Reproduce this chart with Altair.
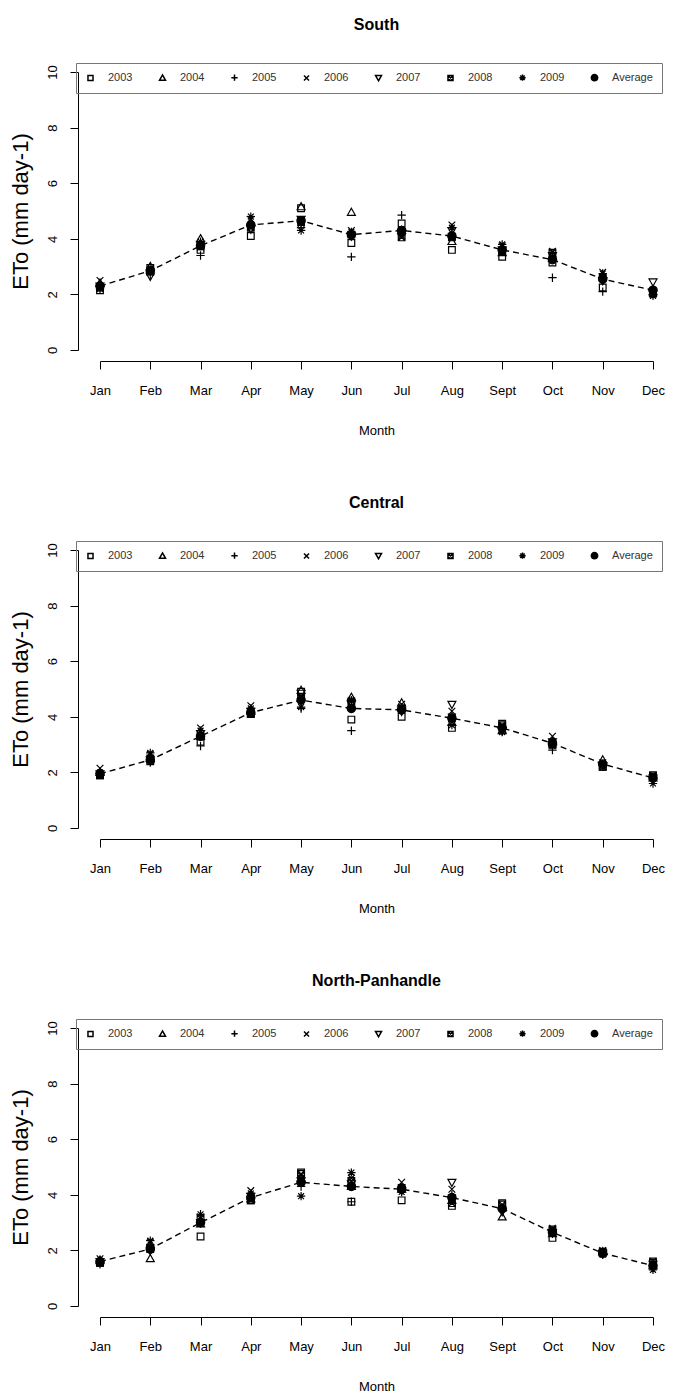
import json
import altair as alt
import pandas as pd

months = ["Jan", "Feb", "Mar", "Apr", "May", "Jun", "Jul", "Aug", "Sept", "Oct", "Nov", "Dec"]
series = ["2003", "2004", "2005", "2006", "2007", "2008", "2009", "Average"]
regions = ["South", "Central", "North-Panhandle"]
y_ticks = [0, 2, 4, 6, 8, 10]

# ---- South ----
south_2003 = [2.15, 2.95, 3.60, 4.10, 5.10, 3.85, 4.55, 3.60, 3.35, 3.15, 2.25, 2.05]
south_2004 = [2.40, 3.00, 4.00, 4.60, 5.15, 4.95, 4.30, 3.90, 3.50, 3.30, 2.70, 2.10]
south_2005 = [2.35, 2.70, 3.40, 4.50, 4.40, 3.35, 4.85, 4.20, 3.70, 2.60, 2.10, 2.15]
south_2006 = [2.50, 2.80, 3.70, 4.70, 4.55, 4.30, 4.10, 4.50, 3.75, 3.55, 2.80, 2.00]
south_2007 = [2.30, 2.65, 3.80, 4.35, 4.70, 4.10, 4.20, 4.30, 3.60, 3.40, 2.50, 2.45]
south_2008 = [2.25, 2.85, 3.75, 4.40, 4.60, 4.15, 4.05, 4.05, 3.55, 3.50, 2.60, 2.10]
south_2009 = [2.20, 2.90, 3.90, 4.80, 4.30, 4.25, 4.15, 4.40, 3.80, 3.35, 2.75, 1.95]
south_avg  = [2.30, 2.85, 3.75, 4.50, 4.65, 4.15, 4.30, 4.10, 3.60, 3.25, 2.55, 2.15]

# ---- Central ----
central_2003 = [1.90, 2.40, 3.10, 4.10, 4.90, 3.90, 4.00, 3.60, 3.75, 3.00, 2.20, 1.85]
central_2004 = [2.00, 2.50, 3.30, 4.20, 4.95, 4.70, 4.50, 3.80, 3.50, 3.10, 2.45, 1.80]
central_2005 = [1.95, 2.35, 2.95, 4.15, 4.30, 3.50, 4.30, 4.10, 3.60, 2.80, 2.30, 1.75]
central_2006 = [2.15, 2.65, 3.60, 4.40, 4.75, 4.40, 4.45, 4.20, 3.65, 3.30, 2.35, 1.85]
central_2007 = [1.95, 2.45, 3.40, 4.20, 4.85, 4.45, 4.20, 4.45, 3.50, 3.10, 2.25, 1.80]
central_2008 = [1.90, 2.50, 3.30, 4.10, 4.70, 4.55, 4.30, 3.95, 3.70, 3.00, 2.20, 1.90]
central_2009 = [2.00, 2.70, 3.50, 4.30, 4.35, 4.60, 4.35, 3.70, 3.45, 2.95, 2.25, 1.60]
central_avg  = [1.95, 2.45, 3.30, 4.15, 4.60, 4.30, 4.25, 3.95, 3.60, 3.05, 2.30, 1.80]

# ---- North-Panhandle ----
north_2003 = [1.55, 2.05, 2.50, 3.80, 4.80, 3.75, 3.80, 3.60, 3.70, 2.45, 1.90, 1.55]
north_2004 = [1.65, 1.70, 2.95, 3.85, 4.60, 4.30, 4.20, 3.80, 3.20, 2.60, 1.95, 1.45]
north_2005 = [1.50, 2.20, 3.10, 3.90, 4.30, 3.75, 4.30, 4.00, 3.50, 2.70, 1.85, 1.40]
north_2006 = [1.70, 2.30, 3.20, 4.15, 4.70, 4.60, 4.45, 4.20, 3.60, 2.80, 2.00, 1.50]
north_2007 = [1.60, 2.00, 3.00, 3.95, 4.50, 4.40, 4.15, 4.45, 3.40, 2.65, 1.90, 1.50]
north_2008 = [1.55, 2.10, 3.15, 3.80, 4.75, 4.50, 4.25, 3.70, 3.65, 2.75, 1.95, 1.60]
north_2009 = [1.60, 2.35, 3.30, 4.05, 3.95, 4.80, 4.10, 3.90, 3.50, 2.60, 1.85, 1.30]
north_avg  = [1.60, 2.05, 3.00, 3.90, 4.45, 4.30, 4.20, 3.90, 3.50, 2.65, 1.90, 1.45]

table = {
    "South": [south_2003, south_2004, south_2005, south_2006, south_2007, south_2008, south_2009, south_avg],
    "Central": [central_2003, central_2004, central_2005, central_2006, central_2007, central_2008, central_2009, central_avg],
    "North-Panhandle": [north_2003, north_2004, north_2005, north_2006, north_2007, north_2008, north_2009, north_avg],
}

rows = []
for reg in regions:
    for s, vals in zip(series, table[reg]):
        for i, v in enumerate(vals):
            rows.append({"region": reg, "series": s, "m": i + 1, "v": v})
df = pd.DataFrame(rows)

# symbol shapes (R pch 0, 2, 3, 4, 6, 7, 8, 16)
shapes = [
    "M-0.8,-0.8L0.8,-0.8L0.8,0.8L-0.8,0.8Z",
    "M0,-1L0.95,0.7L-0.95,0.7Z",
    "M-1,0L1,0M0,-1L0,1",
    "M-0.8,-0.8L0.8,0.8M-0.8,0.8L0.8,-0.8",
    "M0,1L0.95,-0.7L-0.95,-0.7Z",
    "M-0.8,-0.8L0.8,-0.8L0.8,0.8L-0.8,0.8ZM-0.8,-0.8L0.8,0.8M-0.8,0.8L0.8,-0.8",
    "M-1,0L1,0M0,-1L0,1M-0.7,-0.7L0.7,0.7M-0.7,0.7L0.7,-0.7",
    "circle",
]
fills = ["transparent"] * 7 + ["black"]
strokes = ["black"] * 8

FONT = "Liberation Sans"
label_expr = json.dumps(months) + "[datum.value - 1]"


def panel(reg):
    d = df[df.region == reg]
    base = alt.Chart(d)
    x = alt.X(
        "m:Q",
        scale=alt.Scale(domain=[1, 12], nice=False, zero=False),
        axis=alt.Axis(values=list(range(1, 13)), labelExpr=label_expr, title="Month",
                      offset=11, tickSize=8, labelPadding=15, titlePadding=27,
                      labelFlush=False, labelFontSize=13, titleFontSize=13),
    )
    y = alt.Y(
        "v:Q",
        scale=alt.Scale(domain=[0, 10], nice=False, zero=False),
        axis=alt.Axis(values=y_ticks, title="ETo (mm day-1)", offset=22, tickSize=8,
                      labelAngle=-90, labelAlign="center", labelBaseline="bottom",
                      labelFlush=False, labelPadding=11, titlePadding=14,
                      labelFontSize=13, titleFontSize=22),
    )
    line = base.transform_filter(alt.datum.series == "Average").mark_line(
        color="black", strokeDash=[6, 4], strokeWidth=1.4
    ).encode(x=x, y=y)
    legend = alt.Legend(
        title=None, orient="none", legendX=-24, legendY=-9, direction="horizontal",
        columns=8, columnPadding=23, labelFontSize=11, symbolSize=40, symbolStrokeWidth=1.5,
        labelOffset=12, padding=9, strokeColor="#777",
        labelFont=FONT, labelColor="#333",
    )
    pts = base.mark_point(opacity=1, strokeWidth=1.2, size=70).encode(
        x=x, y=y,
        shape=alt.Shape("series:N", scale=alt.Scale(domain=series, range=shapes), legend=legend),
        fill=alt.Fill("series:N", scale=alt.Scale(domain=series, range=fills), legend=legend),
        stroke=alt.Stroke("series:N", scale=alt.Scale(domain=series, range=strokes), legend=legend),
    )
    return alt.layer(line, pts).properties(
        width=553, height=278,
        title=alt.TitleParams(reg, fontSize=16, fontWeight="bold", font=FONT, offset=30,
                              anchor="middle", frame="group"),
    )


chart = alt.vconcat(*[panel(r) for r in regions], spacing=57).resolve_scale(
    shape="independent", fill="independent", stroke="independent"
).resolve_legend(shape="independent", fill="independent", stroke="independent").configure_axis(
    grid=False, domainColor="black", tickColor="black", labelColor="black", titleColor="black",
    labelFont=FONT, titleFont=FONT, titleFontWeight="normal", domainWidth=1, tickWidth=1,
).configure_view(stroke=None).properties(padding={"left": 0, "top": 8, "right": 0, "bottom": 0})

chart.save("out.html", embed_options={"renderer": "svg", "actions": False})
